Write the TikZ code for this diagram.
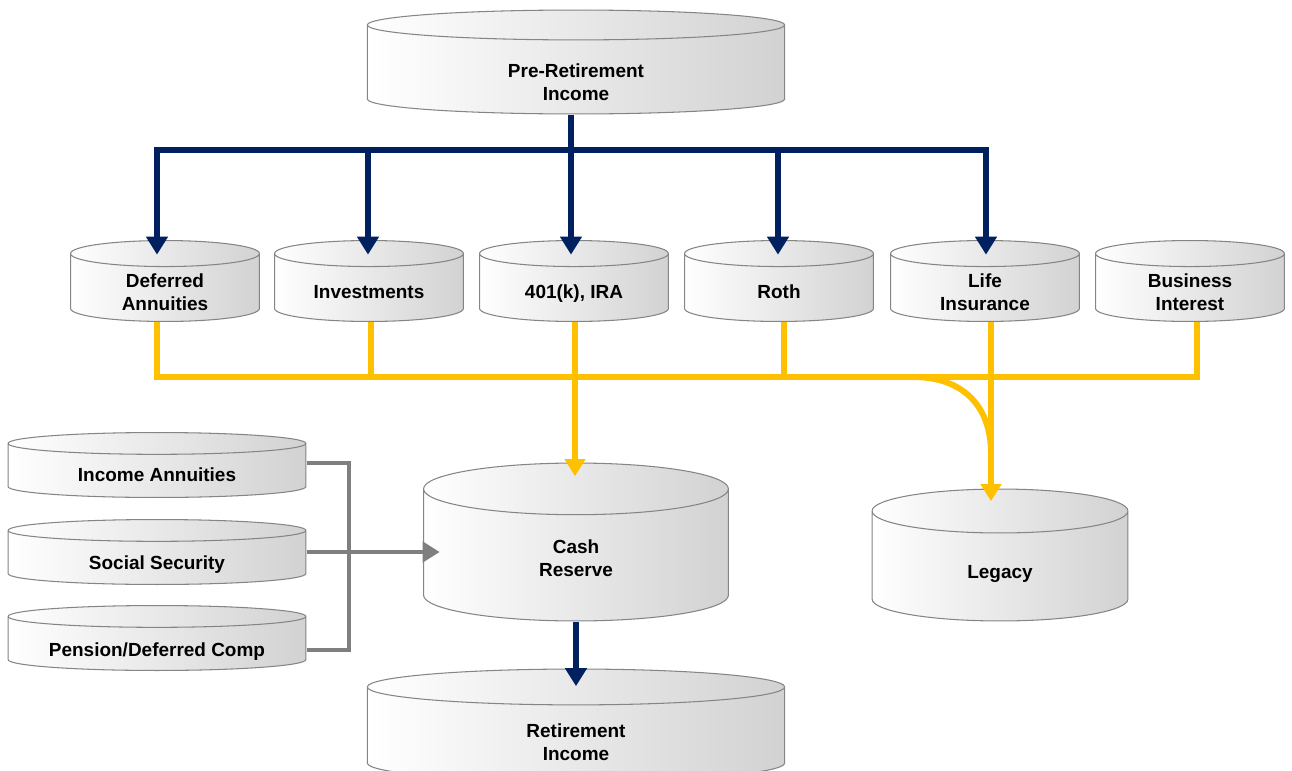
\documentclass[tikz,border=0pt]{standalone}
\usepackage{fontspec}
\setmainfont{Liberation Sans}
\usepackage{xcolor}
\usepackage{tikz}
\usetikzlibrary{arrows.meta, calc}
\definecolor{navy}{HTML}{002060}
\definecolor{gold}{HTML}{FFC000}
\definecolor{pipe}{HTML}{7F7F7F}
\definecolor{rim}{HTML}{858585}
\definecolor{shade}{HTML}{D2D2D2}
%% label sitting a bit below the middle of a can
\newcommand{\cantext}[2]{\raisebox{-#1}[0pt][0pt]{\begin{tabular}{@{}c@{}}#2\end{tabular}}}

\begin{document}
\begin{tikzpicture}[
  x=0.02cm, y=-0.02cm,
  rimry/.store in = \rimry, rimry=7pt,
  can/.style     = {rectangle, inner sep=0pt, font=\bfseries\fontsize{10.8}{13}\selectfont,
    path picture={
      \path[draw=rim, line width=0.6pt, left color=white, middle color=black!4, right color=shade]
        let \p1=(path picture bounding box.north west), \p2=(path picture bounding box.south east),
            \n1={(\x2-\x1)/2-0.3pt}, \n2={\rimry}
        in (\x1+0.3pt,\y1-\n2-0.3pt) -- (\x1+0.3pt,\y2+\n2+0.3pt)
           arc[start angle=180, end angle=360, x radius=\n1, y radius=\n2]
           -- (\x2-0.3pt,\y1-\n2-0.3pt)
           arc[start angle=0, end angle=180, x radius=\n1, y radius=\n2] -- cycle
           (\x1+0.3pt,\y1-\n2-0.3pt) arc[start angle=180, end angle=360, x radius=\n1, y radius=\n2];
    }},
  bigcan/.style  = {can, minimum width=8.37cm, minimum height=2.1cm, rimry=8.5pt},
  midcan/.style  = {can, minimum width=3.8cm, minimum height=1.64cm, rimry=7.4pt},
  srccan/.style  = {can, minimum width=5.98cm, minimum height=1.32cm, rimry=6.2pt},
  navyline/.style = {line width=3.4pt, color=navy},
  navyarr/.style  = {navyline, -{Triangle[length=0.36cm, width=0.42cm]}},
  goldline/.style = {line width=3.4pt, color=gold},
  goldarr/.style  = {goldline, -{Triangle[length=0.34cm, width=0.4cm]}},
  pipeline/.style = {line width=2.8pt, color=pipe},
  pipearr/.style  = {pipeline, -{Triangle[length=0.34cm, width=0.4cm]}},
]
\useasboundingbox (0,0) rectangle (1292,771);
%%--- Top: where the money comes from ---
\node[bigcan] (pre) at (576,62) {\cantext{15.6pt}{Pre-Retirement\\Income}};
%%--- Middle row of accounts (pitch 205) ---
\node[midcan] (da)   at (165, 281) {\cantext{10.2pt}{Deferred\\Annuities}};
\node[midcan] (inv)  at (369, 281) {\cantext{10.2pt}{Investments}};
\node[midcan] (ira)  at (574, 281) {\cantext{10.2pt}{401(k), IRA}};
\node[midcan] (roth) at (779, 281) {\cantext{10.2pt}{Roth}};
\node[midcan] (life) at (985, 281) {\cantext{10.2pt}{Life\\Insurance}};
\node[midcan] (bi)   at (1190,281) {\cantext{10.2pt}{Business\\Interest}};
%%--- Guaranteed sources on the left ---
\node[srccan] (ia)  at (157, 465) {\cantext{9.5pt}{Income Annuities}};
\node[srccan] (ss)  at (157, 552) {\cantext{10.2pt}{Social Security}};
\node[srccan] (pdc) at (157, 638) {\cantext{10.8pt}{Pension/Deferred Comp}};
%%--- Pools and result ---
\node[can, minimum width=6.12cm, minimum height=3.18cm, rimry=14.7pt] (cash)   at (576, 542) {\cantext{13pt}{Cash\\Reserve}};
\node[can, minimum width=5.14cm, minimum height=2.66cm, rimry=12.5pt] (legacy) at (1000,555) {\cantext{13.6pt}{Legacy}};
\node[bigcan, minimum height=2.26cm, rimry=10.2pt] (ret) at (576, 725) {\cantext{13.9pt}{Retirement\\Income}};
%%--- Navy tree from pre-retirement income ---
%% drops sit a few px off the can centres, as in the sketch
\coordinate (nbus) at (571,150);
\draw[navyline] ($(pre.south)+(-5,0)$) -- (nbus);
\draw[navyline, line cap=rect] ($(nbus -| da)+(-8,0)$) -- ($(nbus -| life)+(1,0)$);
\foreach \n/\dx in {da/-8, inv/-1, ira/-3, roth/-1, life/1}
  \draw[navyarr] ($(nbus -| \n)+(\dx,0)$) -- ($(\n.north)+(\dx,15)$);
%%--- Gold collector under the accounts ---
\coordinate (gbus) at (576,377);
\draw[goldline, line cap=rect] ($(gbus -| da)+(-8,0)$) -- ($(gbus -| bi)+(7,0)$);
\foreach \n/\dx in {da/-8, inv/2, roth/5, bi/7}
  \draw[goldline] ($(\n.south)+(\dx,0)$) -- ($(gbus -| \n)+(\dx,0)$);
\draw[goldarr] ($(ira.south)+(1,0)$) -- ($(ira.south |- cash.north)+(1,14)$);
\draw[goldarr] ($(life.south)+(6,0)$) -- ($(life.south |- legacy.north)+(6,13)$);
\coordinate (gbend) at (913,377);
\draw[goldline] (gbend) .. controls +(52,0) and +(0,-45) .. ($(life.south |- legacy.north)+(6,-35)$);
%%--- Grey feed into the cash reserve ---
\coordinate (gtop) at (349,463);
\coordinate (gbot) at (349,650);
\draw[pipeline, line join=miter] (ia.east |- gtop) -- (gtop) -- (gbot) -- (pdc.east |- gbot);
\draw[pipearr] (ss.east) -- ($(ss.east -| cash.west)+(17,0)$);
%%--- Navy drop to retirement income ---
\draw[navyarr] (cash.south) -- ($(ret.north)+(0,18)$);
\end{tikzpicture}
\end{document}
